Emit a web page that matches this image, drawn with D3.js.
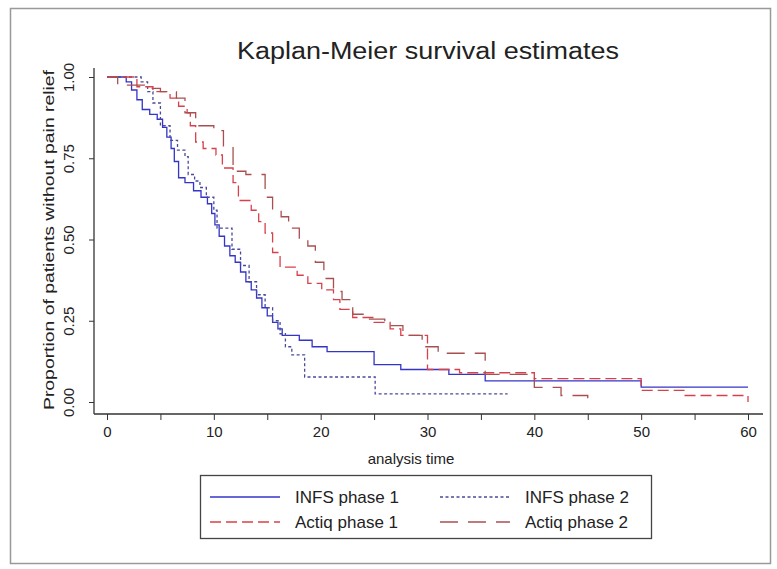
<!DOCTYPE html>
<html>
<head>
<meta charset="utf-8">
<script src="https://cdn.jsdelivr.net/npm/d3@7"></script>
<style>
  body { margin: 0; background: #fff; }
  svg { display: block; font-family: 'Liberation Sans', Arial, sans-serif; }
  .axis text { font-size: 15px; fill: #222; }
  .axis line, .axis path { stroke: #333; }
</style>
</head>
<body>
<svg id="chart" width="777" height="569"></svg>
<script>
'use strict';

// step points [time, survival] for each group
var infs1 = [[0, 1], [1.8, 0.985], [2.3, 0.96], [2.8, 0.93], [3.3, 0.90], [4, 0.885], [4.7, 0.87],
  [5.2, 0.845], [5.6, 0.815], [6, 0.78], [6.3, 0.74], [6.7, 0.69], [7.3, 0.675], [8.1, 0.65],
  [8.8, 0.63], [9.4, 0.61], [9.8, 0.58], [10.1, 0.545], [10.5, 0.51], [11, 0.48], [11.5, 0.45],
  [12, 0.43], [12.5, 0.40], [13, 0.37], [13.5, 0.345], [14, 0.32], [14.5, 0.29], [15, 0.265],
  [15.5, 0.245], [16, 0.225], [16.4, 0.205], [18, 0.19], [19.2, 0.17], [20.6, 0.155], [25, 0.115],
  [27.5, 0.10], [32, 0.085], [35.4, 0.065], [50, 0.046], [60, 0.046]];

var infs2 = [[0, 1], [3.2, 0.985], [3.8, 0.955], [4.3, 0.92], [5, 0.85], [5.9, 0.805], [6.6, 0.775],
  [7.3, 0.755], [7.6, 0.70], [8.2, 0.68], [8.7, 0.66], [9.3, 0.63], [10, 0.59], [10.3, 0.535],
  [11.7, 0.47], [12.5, 0.42], [13.3, 0.37], [14, 0.33], [14.8, 0.29], [15.5, 0.25], [16.2, 0.21],
  [16.7, 0.17], [17.3, 0.145], [18.5, 0.077], [25.1, 0.025], [37.5, 0.025]];

var actiq1 = [[0, 1], [2.8, 0.97], [4.3, 0.955], [5.9, 0.935], [6.7, 0.91], [7.5, 0.89], [7.8, 0.85],
  [8.3, 0.80], [9, 0.78], [10.2, 0.76], [10.8, 0.72], [11.8, 0.675], [12.3, 0.62], [13.5, 0.59],
  [14.2, 0.555], [14.8, 0.52], [15.5, 0.46], [16.2, 0.415], [17.8, 0.39], [18.8, 0.365],
  [20.1, 0.345], [21.2, 0.315], [21.8, 0.285], [23, 0.26], [25, 0.245], [26.5, 0.225],
  [27.5, 0.205], [30, 0.10], [33, 0.09], [40, 0.072], [50, 0.036], [54, 0.02], [60, 0.02], [60, 0]];

var actiq2 = [[0, 1], [1, 0.975], [3.5, 0.965], [5, 0.955], [6.5, 0.935], [7.3, 0.89], [8.3, 0.85],
  [10, 0.835], [10.9, 0.785], [11.8, 0.71], [13, 0.70], [14.8, 0.63], [15.5, 0.59], [16.3, 0.57],
  [17, 0.535], [18, 0.50], [18.8, 0.48], [19.5, 0.43], [20.3, 0.38], [21.2, 0.34], [22, 0.315],
  [23, 0.27], [24.5, 0.255], [26, 0.235], [27.7, 0.205], [29.5, 0.17], [31, 0.15], [35.4, 0.085],
  [40, 0.045], [42.5, 0.02], [45, 0.02], [45, 0]];

var groups = ['INFS phase 1', 'INFS phase 2', 'Actiq phase 1', 'Actiq phase 2'];
var xTicks = [0, 5, 10, 15, 20, 25, 30, 35, 40, 45, 50, 55, 60];
var yTicks = [0, 0.25, 0.5, 0.75, 1];

var styles = [
  { color: '#3434c8', dash: null, width: 1.3 },
  { color: '#4a4a9a', dash: '3,2.5', width: 1.3 },
  { color: '#d8404a', dash: '11,5', width: 1.3 },
  { color: '#a85050', dash: '18,10', width: 1.3 }
];

var svg = d3.select('#chart');

// outer frame
svg.append('rect')
    .attr('x', 10.5).attr('y', 8.5)
    .attr('width', 760).attr('height', 555)
    .attr('fill', '#fff')
    .attr('stroke', '#999')
    .attr('stroke-width', 1.5);

var xScale = d3.scaleLinear().domain([0, 60]).range([107, 748]);
var yScale = d3.scaleLinear().domain([0, 1]).range([402, 77]);

// title
svg.append('text')
    .attr('x', 428).attr('y', 59)
    .attr('text-anchor', 'middle')
    .attr('textLength', 382)
    .attr('lengthAdjust', 'spacingAndGlyphs')
    .style('font-size', '23px')
    .style('fill', '#222')
    .text('Kaplan-Meier survival estimates');

// Axes
var xAxis = d3.axisBottom(xScale)
    .tickValues(xTicks)
    .tickSize(6)
    .tickFormat(function (d) { return d % 10 === 0 ? d : ''; });

var gx = svg.append('g')
    .attr('class', 'axis')
    .attr('transform', 'translate(0, 414)')
    .call(xAxis);
gx.select('.domain').remove();
gx.append('line')
    .attr('x1', 94).attr('x2', 763)
    .attr('stroke', '#333')
    .attr('stroke-width', 1.3);
gx.selectAll('.tick text').attr('y', 12).attr('dy', '0.71em');

var yAxis = d3.axisLeft(yScale)
    .tickValues(yTicks)
    .tickSize(5)
    .tickFormat(d3.format('.2f'));

var gy = svg.append('g')
    .attr('class', 'axis')
    .attr('transform', 'translate(94, 0)')
    .call(yAxis);
gy.select('.domain').remove();
gy.append('line')
    .attr('y1', 68).attr('y2', 414)
    .attr('stroke', '#333')
    .attr('stroke-width', 1.3);
gy.selectAll('.tick text')
    .attr('x', null).attr('dy', null)
    .attr('transform', 'translate(-20, 0) rotate(-90)')
    .attr('text-anchor', 'middle')
    .attr('y', 0);

svg.append('text')
    .attr('transform', 'translate(54, 240) rotate(-90)')
    .attr('text-anchor', 'middle')
    .attr('textLength', 340)
    .attr('lengthAdjust', 'spacingAndGlyphs')
    .style('font-size', '15px')
    .style('fill', '#222')
    .text('Proportion of patients without pain relief');

svg.append('text')
    .attr('x', 411).attr('y', 464)
    .attr('text-anchor', 'middle')
    .style('font-size', '15px')
    .style('fill', '#222')
    .text('analysis time');

// Lines
var line = d3.line()
    .curve(d3.curveStepAfter)
    .x(function (d) { return xScale(d[0]); })
    .y(function (d) { return yScale(d[1]); });

var series = [infs1, infs2, actiq1, actiq2];
svg.append('g').selectAll('path')
    .data(series)
  .enter().append('path')
    .attr('fill', 'none')
    .attr('stroke', function (d, i) { return styles[i].color; })
    .attr('stroke-width', function (d, i) { return styles[i].width; })
    .attr('stroke-dasharray', function (d, i) { return styles[i].dash; })
    .attr('d', line);

// Legend
var legend = svg.append('g');
legend.append('rect')
    .attr('x', 200.5).attr('y', 475.5)
    .attr('width', 451).attr('height', 63)
    .attr('fill', '#fff')
    .attr('stroke', '#444')
    .attr('stroke-width', 1.3);

var items = legend.selectAll('g.item')
    .data(groups)
  .enter().append('g')
    .attr('class', 'item')
    .attr('transform', function (d, i) {
      var col = i % 2;
      var row = Math.floor(i / 2);
      return 'translate(' + (col === 0 ? 210 : 440) + ', ' + (497 + row * 25) + ')';
    });

items.append('line')
    .attr('x1', 0).attr('x2', 70)
    .attr('stroke', function (d, i) { return styles[i].color; })
    .attr('stroke-width', 1.3)
    .attr('stroke-dasharray', function (d, i) { return styles[i].dash; });

items.append('text')
    .attr('x', 85).attr('y', 6)
    .style('font-size', '17px')
    .style('fill', '#222')
    .text(function (d) { return d; });
</script>
</body>
</html>
